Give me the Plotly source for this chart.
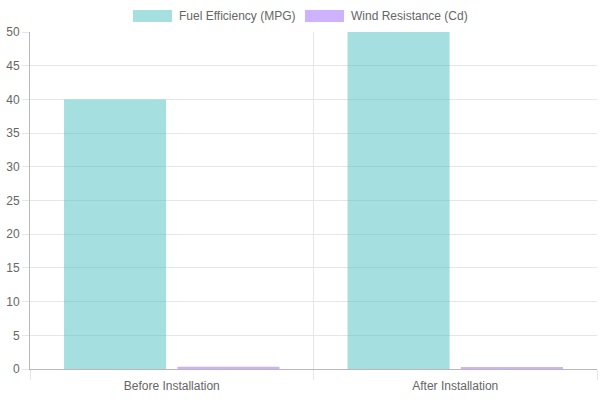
import plotly.graph_objects as go

categories = ["Before Installation", "After Installation"]
series_names = ["Fuel Efficiency (MPG)", "Wind Resistance (Cd)"]
mpg_values = [40, 50]
cd_values = [0.35, 0.3]
y_ticks = [0, 5, 10, 15, 20, 25, 30, 35, 40, 45, 50]

fills = ["rgba(75,192,192,0.5)", "rgba(153,102,255,0.5)"]

fig = go.Figure()
for name, vals, fc in zip(series_names, [mpg_values, cd_values], fills):
    fig.add_trace(go.Bar(x=categories, y=vals, name=name,
                         marker=dict(color=fc, line=dict(width=0))))

font = dict(family="Liberation Sans, Arial, sans-serif", size=12, color="#666666")

W, H = 600, 400
L, R, T, B = 30, 3, 32, 31
pw, ph = W - L - R, H - T - B

legend_items = [(133, 177), (305, 349)]
shapes = []
annotations = []
for (bx, tx), name, fc in zip(legend_items, series_names, fills):
    shapes.append(dict(type="rect", xref="paper", yref="paper",
                       x0=(bx - L) / pw, x1=(bx + 39 - L) / pw,
                       y0=(H - B - 22) / ph, y1=(H - B - 10) / ph,
                       fillcolor=fc, line=dict(width=0)))
    annotations.append(dict(text=name, xref="paper", yref="paper",
                            x=(tx - L) / pw, y=(H - B - 16) / ph,
                            xanchor="left", yanchor="middle", showarrow=False,
                            font=font))

fig.update_layout(
    width=W, height=H,
    margin=dict(l=L, r=R, t=T, b=B),
    plot_bgcolor="white", paper_bgcolor="white",
    barmode="group", bargap=0.2, bargroupgap=0.1,
    showlegend=False,
    font=font,
    shapes=shapes, annotations=annotations,
    xaxis=dict(type="category", tickson="boundaries", showgrid=True,
               gridcolor="#e6e6e6", ticks="outside", ticklen=10,
               tickcolor="#e6e6e6", showline=True, linecolor="#b8b8b8",
               linewidth=1, tickfont=font, automargin=False,
               ticklabelstandoff=6),
    yaxis=dict(range=[0, 50], tickvals=y_ticks, showgrid=True,
               gridcolor="#e6e6e6", ticks="outside", ticklen=7,
               tickcolor="#e6e6e6", showline=True, linecolor="#b8b8b8",
               linewidth=1, zeroline=False, tickfont=font, automargin=False),
)

fig.write_html("out.html", config={"displayModeBar": False},
               post_script="document.body.style.margin='0';document.body.style.padding='0';")
